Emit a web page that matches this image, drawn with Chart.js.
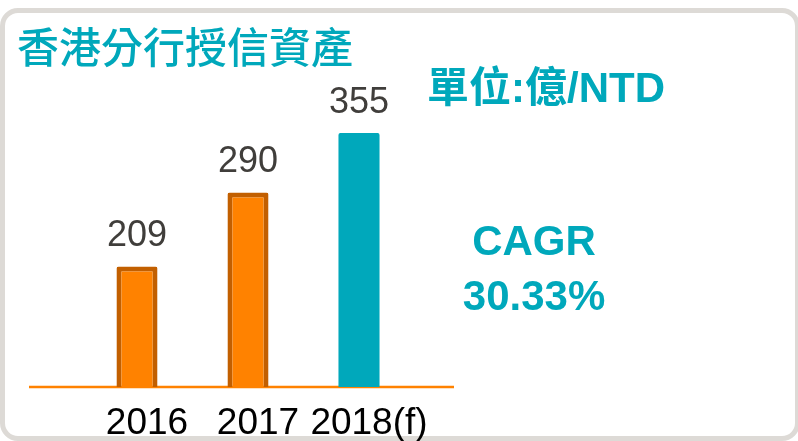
<!DOCTYPE html>
<html>
<head>
<meta charset="utf-8">
<script src="https://cdn.jsdelivr.net/npm/chart.js@4"></script>
<style>
    html, body { margin: 0; padding: 0; overflow: hidden; background: #ffffff; }
    #frame {
        position: absolute; left: 0; top: 8px; width: 800px; height: 433px;
        box-sizing: border-box; border: 5px solid #dddad6; border-radius: 18px; background: #fff;
    }
    #wrap { position: absolute; left: 0; top: 0; width: 798px; height: 470px; }
</style>
</head>
<body>
<div id="frame"></div>
<div id="wrap"><canvas id="assetChart"></canvas></div>
<script>
// data
const categories = ['2016', '2017', '2018(f)'];
const assets = [209, 290, 355];
const chartTitle = '香港分行授信資產';
const unitText = '單位:億/NTD';
const cagrLines = ['CAGR', '30.33%'];

const TEAL = '#00a8bb';
const ORANGE = '#ff8200';
const ORANGE_DARK = '#c25f00';

document.addEventListener('DOMContentLoaded', function() {
    const ctx = document.getElementById('assetChart').getContext('2d');

    // garis dasar oranye di bawah batang
    const baseLine = {
        id: 'baseLine',
        beforeDatasetsDraw(chart) {
            const y = chart.scales.y.getPixelForValue(chart.scales.y.min);
            const c = chart.ctx;
            c.save();
            c.strokeStyle = ORANGE;
            c.lineWidth = 2.5;
            c.beginPath();
            c.moveTo(29, y);
            c.lineTo(454, y);
            c.stroke();
            c.restore();
        }
    };

    // label nilai dan teks tambahan
    const textLayer = {
        id: 'textLayer',
        afterDatasetsDraw(chart) {
            const c = chart.ctx;
            c.save();
            c.textAlign = 'center';
            c.textBaseline = 'alphabetic';
            c.fillStyle = '#403e3b';
            c.font = '36px "Liberation Sans", Arial, sans-serif';
            chart.getDatasetMeta(0).data.forEach((bar, i) => {
                c.fillText(String(assets[i]), bar.x, bar.y - 20);
            });

            c.fillStyle = TEAL;
            c.textAlign = 'left';
            c.font = '500 42px "Noto Sans CJK TC", sans-serif';
            c.fillText(chartTitle, 17, 63);

            c.font = 'bold 42px "Liberation Sans", "Noto Sans CJK TC", sans-serif';
            c.fillText(unitText, 427, 102);

            c.textAlign = 'center';
            c.font = 'bold 42px "Liberation Sans", Arial, sans-serif';
            c.fillText(cagrLines[0], 534, 255);
            c.fillText(cagrLines[1], 534, 310);
            c.restore();
        }
    };

    new Chart(ctx, {
        type: 'bar',
        data: {
            labels: categories,
            datasets: [{
                data: assets,
                backgroundColor: [ORANGE, ORANGE, TEAL],
                borderColor: [ORANGE_DARK, ORANGE_DARK, TEAL],
                borderWidth: [5, 5, 0],
                borderSkipped: false,
                borderRadius: 2,
                barPercentage: 0.37,
                categoryPercentage: 1
            }]
        },
        options: {
            responsive: true,
            maintainAspectRatio: false,
            animation: false,
            layout: { padding: { top: 133, left: 81.5, right: 383.5, bottom: 17 } },
            plugins: {
                legend: { display: false },
                tooltip: { enabled: false }
            },
            scales: {
                x: {
                    offset: true,
                    grid: { display: false },
                    border: { display: false },
                    ticks: {
                        color: '#000000',
                        font: { family: '"Liberation Sans", Arial, sans-serif', size: 37, lineHeight: 1 },
                        padding: 10.5,
                        labelOffset: 10,
                        maxRotation: 0,
                        autoSkip: false
                    }
                },
                y: {
                    display: false,
                    min: 77,
                    max: 355
                }
            }
        },
        plugins: [baseLine, textLayer]
    });
});
</script>
</body>
</html>
